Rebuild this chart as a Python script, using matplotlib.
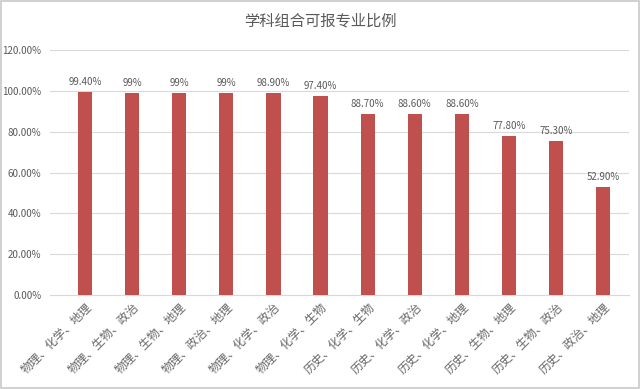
import matplotlib
matplotlib.use("Agg")
import matplotlib.pyplot as plt

plt.rcParams['font.family'] = ['Noto Sans CJK SC', 'DejaVu Sans']

# data
combos = ["物理、化学、地理", "物理、生物、政治", "物理、生物、地理", "物理、政治、地理",
          "物理、化学、政治", "物理、化学、生物", "历史、化学、生物", "历史、化学、政治",
          "历史、化学、地理", "历史、生物、地理", "历史、生物、政治", "历史、政治、地理"]
ratios = [99.4, 99.0, 99.0, 99.0, 98.9, 97.4, 88.7, 88.6, 88.6, 77.8, 75.3, 52.9]
value_labels = ["99.40%", "99%", "99%", "99%", "98.90%", "97.40%",
                "88.70%", "88.60%", "88.60%", "77.80%", "75.30%", "52.90%"]
yticks = [0, 20, 40, 60, 80, 100, 120]

gray = '#595959'
fig = plt.figure(figsize=(6.4, 3.89), dpi=100)
ax = fig.add_axes([0.078, 0.2416, 0.905, 0.6294])

x = list(range(len(combos)))
ax.bar(x, ratios, width=0.3, color='#C0504D', zorder=3)
for xi, v, lab in zip(x, ratios, value_labels):
    ax.text(xi, v + 2.5, lab, ha='center', va='bottom', fontsize=7, color=gray)

ax.set_ylim(0, 120)
ax.set_xlim(-0.745, 11.55)
ax.set_yticks(yticks)
ax.set_yticklabels(["%.2f%%" % t for t in yticks], fontsize=7, color=gray)
ax.set_xticks(x)
ax.set_xticklabels(combos, rotation=45, ha='right', rotation_mode='anchor',
                   fontsize=8.5, color='#666666')
ax.tick_params(axis='y', length=0, pad=6)
ax.tick_params(axis='x', length=0, pad=4)
ax.grid(axis='y', color='#D9D9D9', linewidth=0.8, zorder=0)
for s in ['top', 'right', 'left']:
    ax.spines[s].set_visible(False)
ax.spines['bottom'].set_color('#D9D9D9')

fig.text(0.5, 0.945, "学科组合可报专业比例", ha='center', va='center',
         fontsize=11, color=gray)

# outer border
fig.patches.append(plt.Rectangle((0.002, 0.003), 0.996, 0.994, transform=fig.transFigure,
                                 fill=False, edgecolor='#C8C8C8', linewidth=1.2))

fig.savefig("out.png", dpi=100)
